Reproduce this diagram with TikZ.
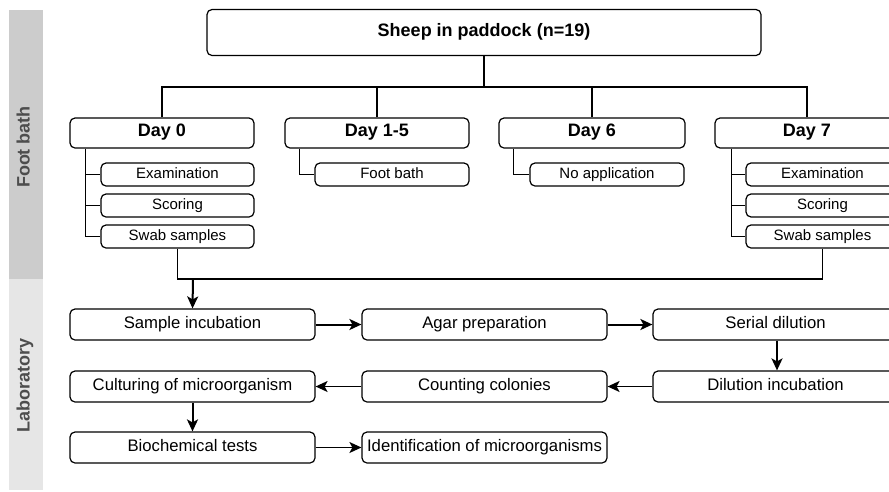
\documentclass[tikz,border=0pt]{standalone}
\usepackage{fontspec}
\setmainfont{Liberation Sans}
\usetikzlibrary{arrows.meta}
\definecolor{bandA}{HTML}{CCCCCC}
\definecolor{bandB}{HTML}{E6E6E6}
\definecolor{bandtxt}{HTML}{4D4D4D}
\tikzset{
  box/.style={draw=black, line width=1.2pt, rounded corners=5pt, inner sep=0pt, align=center, text height=0.72em, text depth=0pt},
  topbox/.style={box, minimum width=554pt, minimum height=46pt, font=\fontsize{18}{20}\selectfont\bfseries},
  daybox/.style={box, minimum width=184pt, minimum height=30pt, font=\fontsize{18}{20}\selectfont\bfseries},
  subbox/.style={box, minimum width=153pt, minimum height=23pt, font=\fontsize{15}{17}\selectfont},
  labbox/.style={box, minimum width=245pt, minimum height=31pt, font=\fontsize{16.7}{19}\selectfont},
  conn/.style={line width=1.3pt},
  thickarr/.style={line width=2pt, -{Stealth[length=12pt, width=11pt, inset=3pt]}},
  thinarr/.style={line width=1.3pt, -{Stealth[length=12pt, width=11pt, inset=3pt]}},
  bandlabel/.style={rotate=90, text=bandtxt, font=\fontsize{18}{20}\selectfont\bfseries, text height=0.72em, text depth=0pt}
}
\begin{document}
\begin{tikzpicture}[x=1pt, y=-1pt]
\useasboundingbox (0,0) rectangle (889,491);
\fill[white] (0,0) rectangle (889,491);
% bands
\fill[bandA] (9,10) rectangle (43,279);
\fill[bandB] (9,279) rectangle (43,490);
\node[bandlabel] (lblfoot) at (26,147) {Foot bath};
\node[bandlabel] (lbllab) at (26,385) {Laboratory};
% top
\node[topbox] (top) at (484,32.5) {Sheep in paddock (n=19)};
% days
\node[daybox] (day0) at (162,133) {Day 0};
\node[daybox] (day15) at (377,133) {Day 1-5};
\node[daybox, minimum width=186pt] (day6) at (592,133) {Day 6};
\node[daybox] (day7) at (807,133) {Day 7};
\coordinate (bus) at (484,87);
\draw[conn] (top.south) -- (bus);
\draw[conn] (day0.north) |- (bus);
\draw[conn] (day15.north) |- (bus);
\draw[conn] (day6.north) |- (bus);
\draw[conn] (day7.north) |- (bus);
% day 0 subs
\node[subbox] (d0exam) at (177.5,174.5) {Examination};
\node[subbox] (d0score) at (177.5,205.5) {Scoring};
\node[subbox] (d0swab) at (177.5,236.5) {Swab samples};
\draw[conn] ([xshift=16pt]day0.south west) |- (d0swab.west);
\draw[conn] ([xshift=16pt]day0.south west |- d0exam.west) -- (d0exam.west);
\draw[conn] ([xshift=16pt]day0.south west |- d0score.west) -- (d0score.west);
% day 1-5
\node[subbox, minimum width=154pt] (d15fb) at (392,174.5) {Foot bath};
\draw[conn] ([xshift=15pt]day15.south west) |- (d15fb.west);
% day 6
\node[subbox, minimum width=154pt] (d6no) at (607,174.5) {No application};
\draw[conn] ([xshift=15pt]day6.south west) |- (d6no.west);
% day 7 subs
\node[subbox] (d7exam) at (822.5,174.5) {Examination};
\node[subbox] (d7score) at (822.5,205.5) {Scoring};
\node[subbox] (d7swab) at (822.5,236.5) {Swab samples};
\draw[conn] ([xshift=17pt]day7.south west) |- (d7swab.west);
\draw[conn] ([xshift=17pt]day7.south west |- d7exam.west) -- (d7exam.west);
\draw[conn] ([xshift=17pt]day7.south west |- d7score.west) -- (d7score.west);
% merge
\coordinate (merge) at (193,279);
\draw[conn] (d0swab.south) |- (merge) -| (d7swab.south);
% lab
\node[labbox] (si) at (192.5,324.5) {Sample incubation};
\node[labbox] (ap) at (484.5,324.5) {Agar preparation};
\node[labbox] (sd) at (775.5,324.5) {Serial dilution};
\node[labbox] (cm) at (192.5,386.5) {Culturing of microorganism};
\node[labbox] (cc) at (484.5,386.5) {Counting colonies};
\node[labbox] (di) at (775.5,386.5) {Dilution incubation};
\node[labbox] (bt) at (192.5,447.5) {Biochemical tests};
\node[labbox] (im) at (484.5,447.5) {Identification of microorganisms};
\draw[thickarr] (merge) -- (si.north);
\draw[thickarr] (si) -- (ap);
\draw[thickarr] (ap) -- (sd);
\draw[thickarr] ([xshift=1.5pt]sd.south) -- ([xshift=1.5pt]di.north);
\draw[thinarr] (di) -- (cc);
\draw[thinarr] (cc) -- (cm);
\draw[thickarr] (cm) -- (bt);
\draw[thinarr] (bt) -- (im);
\end{tikzpicture}
\end{document}
